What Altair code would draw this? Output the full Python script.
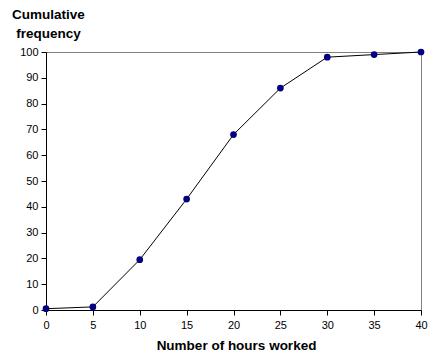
import altair as alt
import pandas as pd

hours = [0, 5, 10, 15, 20, 25, 30, 35, 40]
cum_freq = [0.5, 1.2, 19.5, 43, 68, 86, 98, 99, 100]

df = pd.DataFrame({"hours": hours, "cf": cum_freq})

FONT = "Liberation Sans"

x = alt.X("hours:Q", scale=alt.Scale(domain=[0, 40], nice=False),
          axis=alt.Axis(values=list(range(0, 41, 5)), title="Number of hours worked",
                        grid=False, domainColor="black", tickColor="black",
                        tickSize=5, labelPadding=4, labelFontSize=11, labelFont=FONT,
                        labelColor="black", labelFlush=False,
                        titleFont=FONT, titleFontSize=13.5, titleFontWeight="bold",
                        titleColor="black", titleBaseline="alphabetic", titleY=39,
                        titleX=190))
y = alt.Y("cf:Q", scale=alt.Scale(domain=[0, 100], nice=False),
          axis=alt.Axis(values=list(range(0, 101, 10)), title=["Cumulative", "frequency"],
                        grid=False, domainColor="black", tickColor="black",
                        tickSize=5, labelPadding=3, labelFontSize=11, labelFont=FONT,
                        labelColor="black", labelFlush=False,
                        titleFont=FONT, titleFontSize=13.5, titleFontWeight="bold",
                        titleColor="black", titleAngle=0, titleAlign="center",
                        titleBaseline="alphabetic", titleX=2, titleY=-34,
                        titleLineHeight=19))

line = alt.Chart(df).mark_line(color="black", strokeWidth=1).encode(x=x, y=y)
pts = alt.Chart(df).mark_point(filled=True, color="#000080", size=45, opacity=1).encode(x=x, y=y)

chart = (line + pts).properties(
    width=375, height=258,
    autosize=alt.AutoSizeParams(type="none"),
    padding={"left": 38, "top": 44, "right": 12, "bottom": 41},
    background="white",
).configure_view(stroke="#808080", strokeWidth=1)

chart.save("out.html", embed_options={"renderer": "svg", "actions": False})
